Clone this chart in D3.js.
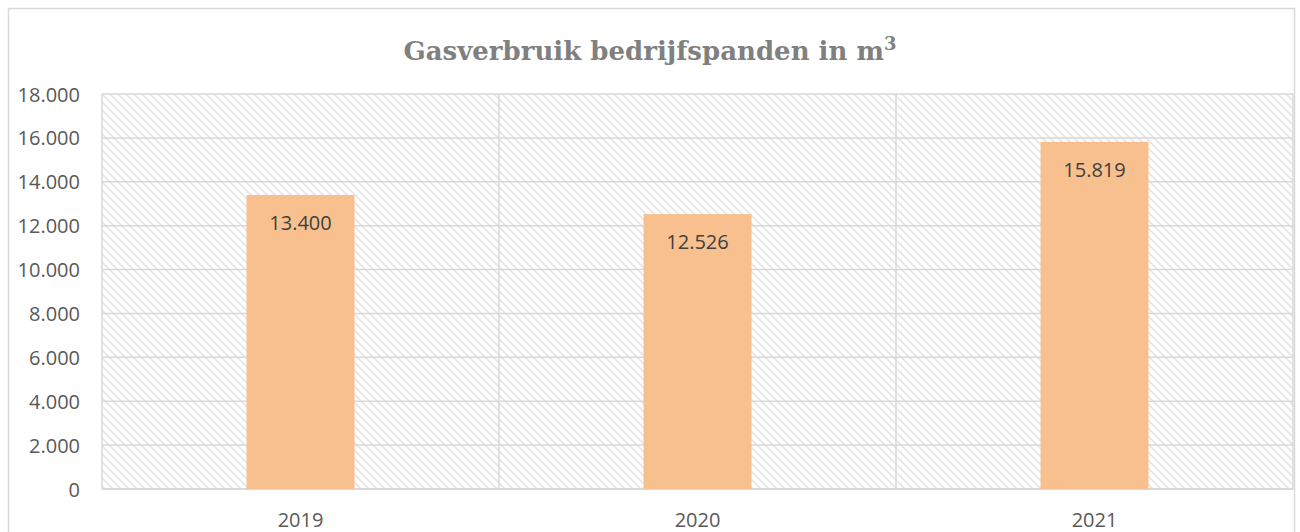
<!DOCTYPE html>
<html><head><meta charset="utf-8">
<script src="https://cdn.jsdelivr.net/npm/d3@7"></script>
<style>body{margin:0;background:#fff}</style>
</head><body>
<svg id="c" width="1300" height="532"></svg>
<script>
const categories = ["2019", "2020", "2021"];
const values = [13400, 12526, 15819];
const valueLabels = ["13.400", "12.526", "15.819"];
const yTicks = [0, 2000, 4000, 6000, 8000, 10000, 12000, 14000, 16000, 18000];
const titleText = "Gasverbruik bedrijfspanden in m";

const svg = d3.select("#c");
const fmt = d => d === 0 ? "0" : d3.format(",")(d).replace(/,/g, ".");

// chart border
svg.append("rect").attr("x", 8.5).attr("y", 8.5).attr("width", 1286).attr("height", 530)
  .attr("fill", "#fff").attr("stroke", "#d9d9d9").attr("stroke-width", 1.5);

const defs = svg.append("defs");
const P = 8;
const pat = defs.append("pattern").attr("id", "hatch").attr("patternUnits", "userSpaceOnUse")
  .attr("width", P).attr("height", P);
pat.append("rect").attr("width", P).attr("height", P).attr("fill", "#fff");
pat.append("path").attr("d", `M-1,-1 L${P+1},${P+1} M-1,${P-1} L1,${P+1} M${P-1},-1 L${P+1},1`)
  .attr("stroke", "#e6e6e6").attr("stroke-width", 1.8);

const pLeft = 102, pRight = 1293, pTop = 94, pBottom = 489;
const x = d3.scaleBand().domain(categories).range([pLeft, pRight]).paddingInner(0).paddingOuter(0);
const y = d3.scaleLinear().domain([0, 18000]).range([pBottom, pTop]);

svg.append("rect").attr("x", pLeft).attr("y", pTop).attr("width", pRight - pLeft).attr("height", pBottom - pTop)
  .attr("fill", "url(#hatch)");

// horizontal grid
svg.append("g").selectAll("line").data(yTicks).join("line")
  .attr("x1", pLeft).attr("x2", pRight).attr("y1", d => y(d)).attr("y2", d => y(d))
  .attr("stroke", "#d9d9d9").attr("stroke-width", 1.5);
// vertical grid at category boundaries
const vlines = categories.map(c => x(c)).concat([pRight]);
svg.append("g").selectAll("line").data(vlines).join("line")
  .attr("x1", d => d).attr("x2", d => d).attr("y1", pTop).attr("y2", pBottom)
  .attr("stroke", "#d9d9d9").attr("stroke-width", 1.5);

// axis line
svg.append("line").attr("x1", pLeft).attr("x2", pRight).attr("y1", pBottom).attr("y2", pBottom)
  .attr("stroke", "#d9d9d9").attr("stroke-width", 2);

// bars
const bw = x.bandwidth() * 0.272;
svg.append("g").selectAll("rect").data(values).join("rect")
  .attr("x", (d, i) => x(categories[i]) + x.bandwidth() / 2 - bw / 2)
  .attr("width", bw)
  .attr("y", d => y(d))
  .attr("height", d => pBottom - y(d))
  .attr("fill", "#f9c08f");

// value labels
svg.append("g").selectAll("text").data(values).join("text")
  .attr("x", (d, i) => x(categories[i]) + x.bandwidth() / 2)
  .attr("y", d => y(d) + 35)
  .attr("text-anchor", "middle")
  .attr("font-family", "Open Sans, sans-serif").attr("font-size", 20)
  .attr("fill", "#404040")
  .text((d, i) => valueLabels[i]);

// y tick labels
svg.append("g").selectAll("text").data(yTicks).join("text")
  .attr("x", 80).attr("y", d => y(d) + 7.5)
  .attr("text-anchor", "end")
  .attr("font-family", "Open Sans, sans-serif").attr("font-size", 20)
  .attr("fill", "#595959")
  .text(fmt);

// x labels
svg.append("g").selectAll("text").data(categories).join("text")
  .attr("x", d => x(d) + x.bandwidth() / 2).attr("y", 527)
  .attr("text-anchor", "middle")
  .attr("font-family", "Open Sans, sans-serif").attr("font-size", 20)
  .attr("fill", "#595959")
  .text(d => d);

// title
const t = svg.append("text").attr("x", 650).attr("y", 60).attr("text-anchor", "middle")
  .attr("font-family", "DejaVu Serif, serif").attr("font-weight", "bold").attr("font-size", 26)
  .attr("fill", "#808080");
t.append("tspan").text(titleText);
t.append("tspan").attr("dy", -10).attr("font-size", 18).text("3");
</script>
</body></html>
